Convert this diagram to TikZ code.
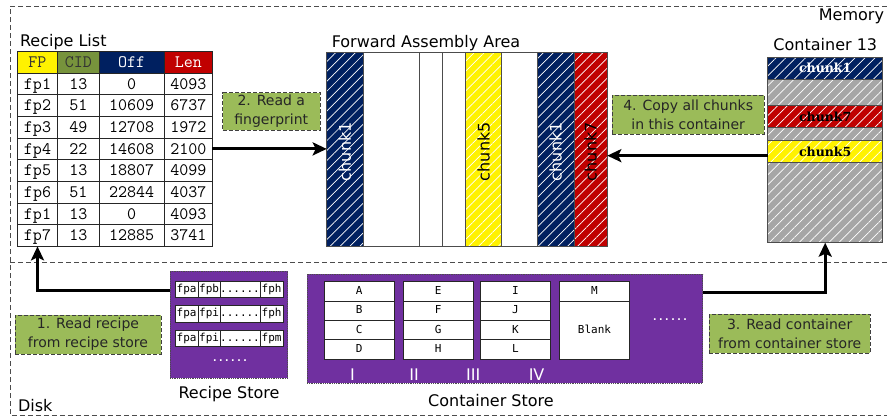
\documentclass[tikz,border=0pt]{standalone}
\usepackage{fontspec}
\setmainfont{DejaVu Sans}
\newfontfamily\cellfont{DejaVu Sans Mono}
\newfontfamily\slabfont{DejaVu Serif}
\usepackage{xcolor}
\usetikzlibrary{positioning, arrows.meta, patterns.meta}

\definecolor{navy}{HTML}{002060}
\definecolor{darkred}{HTML}{C00000}
\definecolor{cidgreen}{HTML}{77933C}
\definecolor{stepgreen}{HTML}{9BBB59}
\definecolor{storepurple}{HTML}{7030A0}
\definecolor{hatchgray}{HTML}{A6A6A6}

\begin{document}
\begin{tikzpicture}[
    x=1pt, y=-1pt,
    every node/.style={inner sep=0pt, outer sep=0pt},
    title/.style={font=\fontsize{16}{19}\selectfont, anchor=base},
    cell/.style={draw=black!85, line width=0.8pt, minimum height=21.65pt, text height=12pt, text depth=1.6pt, font=\ttfamily\fontsize{17.5}{20}\selectfont},
    hatch/.style={preaction={fill=#1}, preaction={pattern={Lines[angle=45,distance=7pt,line width=0.7pt]}, pattern color=white}},
    facol/.style={draw=black!70, line width=0.8pt, minimum height=194pt, anchor=north west},
    chunk/.style={draw=black!70, line width=0.8pt, minimum width=115pt, anchor=north west, font=\slabfont\bfseries\fontsize{12.5}{14}\selectfont},
    stepbox/.style={fill=stepgreen, draw=black!75, dash pattern=on 4pt off 2pt, line width=0.8pt, align=center, font=\fontsize{14}{19}\selectfont, text=black!85},
    store/.style={fill=storepurple, draw=black!70, densely dotted, line width=0.8pt},
    slot/.style={draw=black!85, fill=white, line width=0.8pt, anchor=north west, text height=8pt, text depth=2pt, font=\cellfont\fontsize{11}{13}\selectfont},
    arrow/.style={-{Stealth[length=14pt,width=13pt,inset=3pt]}, line width=3pt, black},
    border/.style={dash pattern=on 5pt off 3pt, black!70, line width=0.8pt}
]
\useasboundingbox (0,0) rectangle (887,418);

% Memory / Disk borders
\draw[border] (887,6) -- (10,6) -- (10,415) -- (887,415);
\draw[border] (10,262) -- (887,262);
\node[title, anchor=base east] (memlabel) at (884,20.5) {Memory};
\node[title, anchor=base west] (disklabel) at (18,411.5) {Disk};

% Recipe list
\node[title, anchor=base west] (listlabel) at (20,46) {Recipe List};
\node[cell, fill=yellow, text=black!80, minimum width=40.4pt] (fp0) at (37.5,62.3) {FP};
\node[cell, fill=cidgreen, text=black!80, minimum width=41.3pt] (cid0) at (78.35,62.3) {CID};
\node[cell, fill=navy, text=white, minimum width=65.3pt] (off0) at (131.65,62.3) {Off};
\node[cell, fill=darkred, text=white, minimum width=48pt] (len0) at (188.3,62.3) {Len};
\foreach \fp/\cid/\off/\len [count=\i] in {fp1/13/0/4093, fp2/51/10609/6737, fp3/49/12708/1972, fp4/22/14608/2100, fp5/13/18807/4099, fp6/51/22844/4037, fp1/13/0/4093, fp7/13/12885/3741} {
    \node[cell, minimum width=40.4pt] (fp\i) at (37.5,62.3+21.65*\i) {\fp};
    \node[cell, minimum width=41.3pt] (cid\i) at (78.35,62.3+21.65*\i) {\cid};
    \node[cell, minimum width=65.3pt] (off\i) at (131.65,62.3+21.65*\i) {\off};
    \node[cell, minimum width=48pt] (len\i) at (188.3,62.3+21.65*\i) {\len};
}

% Forward assembly area
\node[title] (falabel) at (426,47) {Forward Assembly Area};
\foreach \x/\w/\c [count=\i] in {326.7/36.6/navy, 363.3/56/white, 419.3/23/white, 442.3/23.4/white, 465.7/36/yellow, 501.7/35.6/white, 537.3/36.7/navy, 574/33.3/darkred} {
    \node[facol, minimum width=\w pt, hatch=\c] (fa\i) at (\x,52.7) {};
}
\foreach \i/\txt/\tc in {1/chunk1/white, 5/chunk5/black, 7/chunk1/white, 8/chunk7/black} {
    \node[rotate=90, font=\fontsize{16}{19}\selectfont, text=\tc] (falab\i) at ([yshift=-2pt]fa\i.center) {\txt};
}

% Container 13
\node[title] (c13label) at (825.3,50) {Container 13};
\foreach \t/\h/\c/\txt/\tc [count=\i] in {57.3/22/navy/chunk1/white, 79.3/25.7/hatchgray//black, 105/22.7/darkred/chunk7/black, 127.7/13/hatchgray//black, 140.7/21.3/yellow/chunk5/black, 162/80.7/hatchgray//black} {
    \node[chunk, minimum height=\h pt, hatch=\c, text=\tc] (ck\i) at (767.7,\t) {\txt};
}

% Recipe store
\node[store, minimum width=117.7pt, minimum height=107.3pt] (rstore) at (228.85,324.65) {};
\foreach \b/\d [count=\r] in {fpb/fph, fpi/fph, fpi/fpm} {
    \node[slot, minimum width=23.3pt, minimum height=16.5pt] (ra\r) at (175,281+24.5*\r-24.5) {fpa};
    \node[slot, minimum width=21.7pt, minimum height=16.5pt, right=0pt of ra\r] (rb\r) {\b};
    \node[slot, minimum width=40pt, minimum height=16.5pt, right=0pt of rb\r] (rc\r) {......};
    \node[slot, minimum width=23.3pt, minimum height=16.5pt, right=0pt of rc\r] (rd\r) {\d};
}
\node[text=white, font=\cellfont\bfseries\fontsize{10}{12}\selectfont] (rmore) at (230,361) {......};
\node[title] (rslabel) at (229,398.3) {Recipe Store};

% Container store
\node[store, minimum width=395.7pt, minimum height=109pt] (cstore) at (504.85,328.8) {};
\foreach \x/\a/\b/\c/\d [count=\g] in {324.3/A/B/C/D, 403.3/E/F/G/H, 480.5/I/J/K/L} {
    \foreach \t [count=\r] in {\a,\b,\c,\d} {
        \node[slot, minimum width=70pt, minimum height=19.33pt] (box\g-\r) at (\x,281.7+19.33*\r-19.33) {\t};
    }
}
\node[slot, minimum width=70pt, minimum height=19.33pt] (boxm) at (559.5,281.7) {M};
\node[slot, minimum width=70pt, minimum height=58pt, below=0pt of boxm] (blank) {Blank};
\foreach \x/\n in {352.4/I, 414.2/II, 473.3/III, 536.6/IV} {
    \node[text=white, font=\fontsize{16}{19}\selectfont] (num\n) at (\x,375) {\n};
}
\node[text=white, font=\cellfont\bfseries\fontsize{10}{12}\selectfont] (cmore) at (670,320) {......};
\node[title] (cslabel) at (491,406) {Container Store};

% Steps
\node[stepbox, minimum width=146pt, minimum height=39pt] (step1) at (88,334.5) {1. Read recipe\\from recipe store};
\node[stepbox, minimum width=97.3pt, minimum height=37.3pt] (step2) at (271.3,111.3) {2. Read a\\fingerprint};
\node[stepbox, minimum width=160.7pt, minimum height=39pt] (step3) at (789.7,333.8) {3. Read container\\from container store};
\node[stepbox, minimum width=151.7pt, minimum height=39.3pt] (step4) at (688.2,114.7) {4. Copy all chunks\\in this container};

% Arrows
\coordinate (rout) at ([yshift=-19pt]rstore.north west);
\draw[arrow] (rout) -| (fp8.south);
\draw[arrow] (len4.east) -- (len4.east -| fa1.west);
\coordinate (cout) at ([yshift=-18.4pt]cstore.north east);
\draw[arrow] (cout) -| (ck6.south);
\coordinate (copy) at ([yshift=-4.3pt]ck5.west);
\draw[arrow] (copy) -- (copy -| fa8.east);

\end{tikzpicture}
\end{document}
